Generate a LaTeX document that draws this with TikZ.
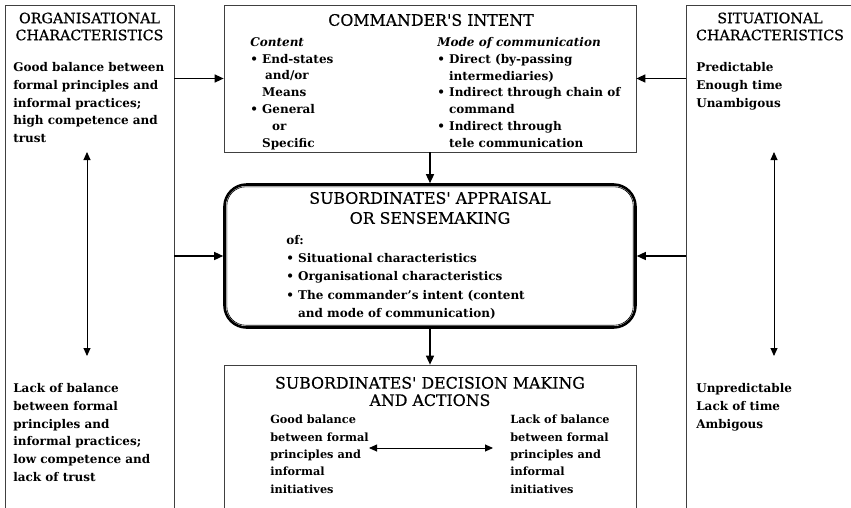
\documentclass[tikz,border=0pt]{standalone}
\usepackage{fontspec}
\setmainfont{DejaVu Serif}
\newfontfamily\headfont[FakeBold=0.6]{DejaVu Serif}
\usetikzlibrary{arrows.meta}

\begin{document}
\begin{tikzpicture}[
            x = 1pt, y = -1pt, % picture units, y counted downwards
            > = {Triangle[length=9pt, width=8pt]}, % arrow head style
            semithick % line style
        ]

        \tikzstyle{box}=[
            draw = black!75,
            line width = 0.7pt,
            fill = none,
            inner sep = 0pt
        ]
        \tikzstyle{title}=[
            font = \headfont\fontsize{14.3}{17}\selectfont,
            align = center,
            inner sep = 0pt
        ]
        \tikzstyle{bigtitle}=[
            title,
            font = \headfont\fontsize{15.8}{20}\selectfont
        ]
        \tikzstyle{body}=[
            font = \bfseries\fontsize{12}{17.8}\selectfont,
            align = left,
            anchor = north west,
            inner sep = 0pt
        ]
        \tikzstyle{flow}=[->, line width = 1.4pt]
        \tikzstyle{spread}=[{Triangle[length=8pt, width=7pt]}-{Triangle[length=8pt, width=7pt]}, line width = 0.9pt]

        \useasboundingbox (0,0) rectangle (851,507);
        \clip (0,0) rectangle (851,507);

        % boxes
        \node[box, minimum width=169pt, minimum height=555pt] (org) at (89.5,282.5) {};
        \node[box, minimum width=214pt, minimum height=555pt] (sit) at (793,282.5) {};
        \node[box, minimum width=412pt, minimum height=147pt] (intent) at (430,78.5) {};
        \node[draw, line width=2.6pt, rounded corners=22pt, minimum width=411pt, minimum height=143pt] (sense) at (430,256) {};
        \draw[line width=0.6pt, rounded corners=19pt] ([shift={(3.6pt,-3.6pt)}]sense.north west) rectangle ([shift={(-3.6pt,3.6pt)}]sense.south east);
        \node[box, minimum width=412pt, minimum height=200pt] (action) at (430,465) {};

        % organisational characteristics
        \node[title] (orgtitle) at (89.5,26.5) {ORGANISATIONAL\\CHARACTERISTICS};
        \node[body] (orghigh) at (13,62) {Good balance between\\formal principles and\\informal practices;\\high competence and\\trust};
        \node[body] (orglow) at (13,383) {Lack of balance\\between formal\\principles and\\informal practices;\\low competence and\\lack of trust};
        \coordinate (orgtop) at (87,152);
        \coordinate (orgbot) at (87,356);

        % situational characteristics
        \node[title] (sittitle) at (770,26.5) {SITUATIONAL\\CHARACTERISTICS};
        \node[body] (sithigh) at (696,62) {Predictable\\Enough time\\Unambigous};
        \node[body] (sitlow) at (696,383) {Unpredictable\\Lack of time\\Ambigous};
        \coordinate (sittop) at (774,152);
        \coordinate (sitbot) at (774,356);

        % commander's intent
        \node[bigtitle] (intenttitle) at (431,20) {COMMANDER'S INTENT};
        \node[body, font=\bfseries\fontsize{12}{16.8}\selectfont] (content) at (250,37)
            {\textit{Content}\\\textbullet\ End-states\\\hspace*{3pt}\phantom{\textbullet\ }and/or\\\phantom{\textbullet\ }Means\\\textbullet\ General\\\hspace*{10pt}\phantom{\textbullet\ }or\\\phantom{\textbullet\ }Specific};
        \node[body, font=\bfseries\fontsize{12}{16.8}\selectfont] (mode) at (437,37)
            {\textit{Mode of communication}\\\textbullet\ Direct (by-passing\\\phantom{\textbullet\ }intermediaries)\\\textbullet\ Indirect through chain of\\\phantom{\textbullet\ }command\\\textbullet\ Indirect through\\\phantom{\textbullet\ }tele communication};

        % subordinates' appraisal
        \node[bigtitle] (sensetitle) at (430,208) {SUBORDINATES' APPRAISAL\\OR SENSEMAKING};
        \node[body, font=\bfseries\fontsize{12}{18.2}\selectfont] (senselist) at (286,235)
            {of:\\\textbullet\ Situational characteristics\\\textbullet\ Organisational characteristics\\\textbullet\ The commander's intent (content\\\phantom{\textbullet\ }and mode of communication)};

        % subordinates' decision making
        \node[bigtitle, font=\headfont\fontsize{15.8}{17.3}\selectfont] (actiontitle) at (430,391.5) {SUBORDINATES' DECISION MAKING\\AND ACTIONS};
        \node[body, font=\bfseries\fontsize{11.3}{17.3}\selectfont] (actgood) at (270,415) {Good balance\\between formal\\principles and\\informal\\initiatives};
        \node[body, font=\bfseries\fontsize{11.3}{17.3}\selectfont] (actlack) at (510,415) {Lack of balance\\between formal\\principles and\\informal\\initiatives};
        \coordinate (actleft) at (369,448);
        \coordinate (actright) at (493,448);

        % connectors
        \draw[flow] (org.east |- intent.west) -- (intent.west);
        \draw[flow] (sit.west |- intent.east) -- (intent.east);
        \draw[flow] (intent.south) -- (sense.north);
        \draw[flow] (org.east |- sense.west) -- (sense.west);
        \draw[flow] (sit.west |- sense.east) -- (sense.east);
        \draw[flow] (sense.south) -- (action.north);
        \draw[spread] (orgtop) -- (orgbot);
        \draw[spread] (sittop) -- (sitbot);
        \draw[spread] (actleft) -- (actright);

    \end{tikzpicture}
\end{document}
